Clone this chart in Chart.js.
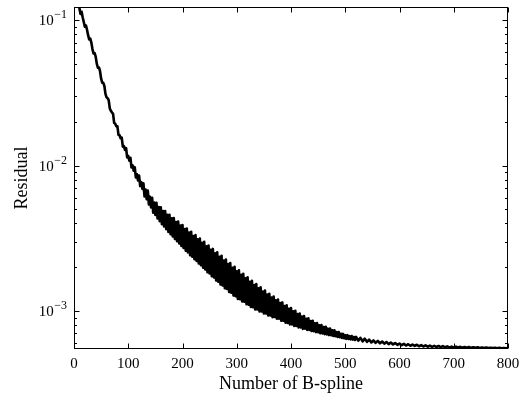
<!DOCTYPE html>
<html>
<head>
<meta charset="utf-8">
<script src="https://cdn.jsdelivr.net/npm/chart.js@4.4.1/dist/chart.umd.min.js"></script>
<style>
  html, body { margin: 0; padding: 0; background: #fff; }
  canvas { display: block; }
</style>
</head>
<body>
<canvas id="residual" width="526" height="397"></canvas>
<script>
// number of B-splines (x) and the residual
var nBspline = [
  8, 10, 12, 14, 16, 18, 20, 22, 24, 26, 28, 30, 32, 34, 36, 38, 40, 42, 44, 46, 48, 50, 52, 54, 56, 58, 60, 62, 64, 66, 68, 70, 72, 74, 76, 78, 80, 82, 84, 86, 88, 90, 92, 94, 96, 98, 100,
  102, 104, 106, 108, 110, 112, 114, 116, 118, 120, 122, 124, 126, 128, 130, 132, 134, 136, 138, 140, 142, 144, 146, 148, 150,
  152, 154, 156, 158, 160, 162, 164, 166, 168, 170, 172, 174, 176, 178, 180, 182, 184, 186, 188, 190, 192, 194, 196, 198, 200,
  202, 204, 206, 208, 210, 212, 214, 216, 218, 220, 222, 224, 226, 228, 230, 232, 234, 236, 238, 240, 242, 244, 246, 248, 250,
  252, 254, 256, 258, 260, 262, 264, 266, 268, 270, 272, 274, 276, 278, 280, 282, 284, 286, 288, 290, 292, 294, 296, 298, 300,
  302, 304, 306, 308, 310, 312, 314, 316, 318, 320, 322, 324, 326, 328, 330, 332, 334, 336, 338, 340, 342, 344, 346, 348, 350,
  352, 354, 356, 358, 360, 362, 364, 366, 368, 370, 372, 374, 376, 378, 380, 382, 384, 386, 388, 390, 392, 394, 396, 398, 400,
  402, 404, 406, 408, 410, 412, 414, 416, 418, 420, 422, 424, 426, 428, 430, 432, 434, 436, 438, 440, 442, 444, 446, 448, 450,
  452, 454, 456, 458, 460, 462, 464, 466, 468, 470, 472, 474, 476, 478, 480, 482, 484, 486, 488, 490, 492, 494, 496, 498, 500,
  502, 504, 506, 508, 510, 512, 514, 516, 518, 520, 524, 528, 532, 536, 540, 544, 548, 552, 556, 560, 564, 568, 572, 576, 580, 584, 588, 592, 596, 600,
  604, 608, 612, 616, 620, 624, 628, 632, 636, 640, 644, 648, 652, 656, 660, 664, 668, 672, 676, 680, 684, 688, 692, 696, 700,
  704, 708, 712, 716, 720, 724, 728, 732, 736, 740, 744, 748, 752, 756, 760, 764, 768, 772, 776, 780, 784, 788, 792, 796, 800
];
var residual = [
  0.1300, 0.1209, 0.1103, 0.1143, 0.1047, 0.0973, 0.0901, 0.0921, 0.0860, 0.0789, 0.0739, 0.0746, 0.0701, 0.0633, 0.0590, 0.0595,
  0.0561, 0.0503, 0.0471, 0.0473, 0.0446, 0.0396, 0.0372, 0.0371, 0.0353, 0.0311, 0.0295, 0.0291, 0.0281, 0.0247, 0.0238, 0.0232,
  0.0227, 0.0197, 0.01939, 0.01861, 0.01866, 0.01628, 0.01618, 0.01543, 0.01558, 0.01350, 0.01363, 0.01283, 0.01321, 0.01139, 0.01164,
  0.01081, 0.01132, 0.00969, 0.01003, 0.00923, 0.00975, 0.00828, 0.00871, 0.00790, 0.00854, 0.00723, 0.00769, 0.00691, 0.00754, 0.00614,
  0.00683, 0.00586, 0.00673, 0.00540, 0.00611, 0.00515, 0.00601, 0.00474, 0.00557, 0.00457,
  0.00554, 0.00433, 0.00518, 0.00415, 0.00516, 0.00395, 0.00486, 0.00381, 0.00487, 0.00365, 0.00458, 0.00350, 0.00459, 0.00337, 0.00433,
  0.00325, 0.00435, 0.00313, 0.00409, 0.00302, 0.00412, 0.00291, 0.00387, 0.00280, 0.00390,
  0.00271, 0.00366, 0.00260, 0.00369, 0.00253, 0.00346, 0.00242, 0.00350, 0.00236, 0.00328, 0.00227, 0.00332, 0.00221, 0.00311, 0.00212,
  0.00315, 0.00206, 0.00294, 0.00198, 0.00299, 0.00193, 0.00278, 0.00185, 0.00282, 0.001811,
  0.00263, 0.001733, 0.00267, 0.001697, 0.00249, 0.001622, 0.00253, 0.001591, 0.002353, 0.001519, 0.002391, 0.001499, 0.002222, 0.001433, 0.002258,
  0.001414, 0.002097, 0.001352, 0.002131, 0.001336, 0.001979, 0.001277, 0.002011, 0.001261, 0.001870,
  0.001209, 0.001901, 0.001205, 0.001770, 0.001160, 0.001799, 0.001155, 0.001675, 0.001111, 0.001702, 0.001105, 0.001586, 0.001064, 0.001611, 0.001060,
  0.001505, 0.001023, 0.001529, 0.001025, 0.001431, 0.000991, 0.001453, 0.000993, 0.001361, 0.000960,
  0.001380, 0.000961, 0.001295, 0.000931, 0.001312, 0.000932, 0.001236, 0.000905, 0.001254, 0.000909, 0.001182, 0.000885, 0.001198, 0.000885, 0.001131,
  0.000857, 0.001144, 0.000855, 0.001081, 0.000829, 0.001093, 0.000828, 0.001036, 0.000806, 0.001046,
  0.000808, 0.000994, 0.000788, 0.001002, 0.000789, 0.000953, 0.000770, 0.000960, 0.000770, 0.000916, 0.000753, 0.000922, 0.000755, 0.000884, 0.000740,
  0.000888, 0.000741, 0.000852, 0.000727, 0.000856, 0.000726, 0.000822, 0.000714, 0.000824, 0.000713,
  0.000797, 0.000702, 0.000800, 0.000701, 0.000775, 0.000692, 0.000778, 0.000690, 0.000755, 0.000682, 0.000756, 0.000680, 0.000735, 0.000672, 0.000735,
  0.000669, 0.000715, 0.000662, 0.000715, 0.000659, 0.000696, 0.000652, 0.000695, 0.000648, 0.000680,
  0.000643, 0.000681, 0.000641, 0.000671, 0.000637, 0.000672, 0.000635, 0.000661, 0.000631, 0.000662,
  0.000625, 0.000653, 0.000618, 0.000644, 0.000613, 0.000635, 0.000607, 0.000627, 0.000603, 0.000622, 0.000599, 0.000616, 0.000595, 0.000611, 0.000591,
  0.000606, 0.000588, 0.000601, 0.000584, 0.000596,
  0.000581, 0.000593, 0.000578, 0.000590, 0.000576, 0.000587, 0.000574, 0.000585, 0.000571, 0.000582, 0.000569, 0.000579, 0.000567, 0.000577, 0.000566,
  0.000575, 0.000565, 0.000574, 0.000563, 0.000572, 0.000562, 0.000570, 0.000561, 0.000568, 0.000560,
  0.000568, 0.000560, 0.000566, 0.000558, 0.000565, 0.000558, 0.000564, 0.000557, 0.000562, 0.000557, 0.000562, 0.000556, 0.000561, 0.000556, 0.000560,
  0.000555, 0.000558, 0.000555, 0.000558, 0.000553, 0.000557, 0.000553, 0.000556, 0.000553, 0.000555
];
var xTicks = [0, 100, 200, 300, 400, 500, 600, 700, 800];
var yDecades = [-3, -2, -1];
var yMin = 5.47e-4, yMax = 0.1233;

var FONT = '"Liberation Serif", "Times New Roman", serif';

// matplotlib-like frame with inward ticks on all four sides
var frameTicks = {
  id: 'frameTicks',
  afterDraw: function(chart) {
    var ctx = chart.ctx, a = chart.chartArea;
    var xs = chart.scales.x, ys = chart.scales.y;
    ctx.save();
    ctx.strokeStyle = '#000';
    ctx.lineWidth = 1;
    var L = Math.round(a.left) + 0.5, R = Math.round(a.right) - 0.5;
    var T = Math.round(a.top) + 0.5, B = Math.round(a.bottom) - 0.5;
    ctx.strokeRect(L, T, R - L, B - T);

    ctx.beginPath();
    xTicks.forEach(function(v) {
      var px = Math.round(xs.getPixelForValue(v)) + 0.5;
      ctx.moveTo(px, B); ctx.lineTo(px, B - 5);
      ctx.moveTo(px, T); ctx.lineTo(px, T + 5);
    });
    for (var e = -4; e <= -1; e++) {
      for (var k = 1; k <= 9; k++) {
        var v = k * Math.pow(10, e);
        if (v < ys.min || v > ys.max) continue;
        var py = Math.round(ys.getPixelForValue(v)) + 0.5;
        var len = k === 1 ? 5 : 2.5;
        ctx.moveTo(L, py); ctx.lineTo(L + len, py);
        ctx.moveTo(R, py); ctx.lineTo(R - len, py);
      }
    }
    ctx.stroke();

    // y labels as 10 with a raised exponent
    ctx.fillStyle = '#000';
    ctx.textBaseline = 'middle';
    yDecades.forEach(function(e) {
      var py = ys.getPixelForValue(Math.pow(10, e));
      var sup = '\u2212' + Math.abs(e);
      ctx.font = '12px ' + FONT;
      var ew = ctx.measureText(sup).width;
      var x0 = a.left - 7 - ew;
      ctx.textAlign = 'left';
      ctx.fillText(sup, x0, py - 5);
      ctx.font = '15px ' + FONT;
      ctx.textAlign = 'right';
      ctx.fillText('10', x0 - 0.5, py + 1);
    });
    ctx.restore();
  }
};

window.onload = function() {
  var ctx = document.getElementById('residual').getContext('2d');
  var points = nBspline.map(function(n, i) { return { x: n, y: residual[i] }; });
  new Chart(ctx, {
    type: 'line',
    data: {
      datasets: [{
        data: points,
        borderColor: '#000',
        borderWidth: 2.6,
        pointRadius: 0,
        fill: false,
        tension: 0,
        borderJoinStyle: 'round',
        clip: 0
      }]
    },
    options: {
      responsive: false,
      animation: false,
      layout: { padding: { top: 7, right: 18, bottom: 0, left: 0 } },
      plugins: { legend: { display: false }, tooltip: { enabled: false } },
      scales: {
        x: {
          type: 'linear',
          min: 0, max: 800,
          grid: { display: false, drawTicks: false },
          border: { display: false },
          ticks: {
            stepSize: 100,
            padding: 6,
            color: '#000',
            font: { family: FONT, size: 15 },
            maxRotation: 0
          },
          title: {
            display: true,
            text: 'Number of B-spline',
            color: '#000',
            font: { family: FONT, size: 18 },
            padding: { top: 0, bottom: 2 }
          },
          afterFit: function(scale) { scale.height = 48; }
        },
        y: {
          type: 'logarithmic',
          min: yMin, max: yMax,
          grid: { display: false, drawTicks: false },
          border: { display: false },
          ticks: { display: false },
          title: {
            display: true,
            text: 'Residual',
            color: '#000',
            font: { family: FONT, size: 18 },
            padding: { top: 11, bottom: 0 }
          },
          afterFit: function(scale) { scale.width = 74; }
        }
      }
    },
    plugins: [frameTicks]
  });
};
</script>
</body>
</html>
